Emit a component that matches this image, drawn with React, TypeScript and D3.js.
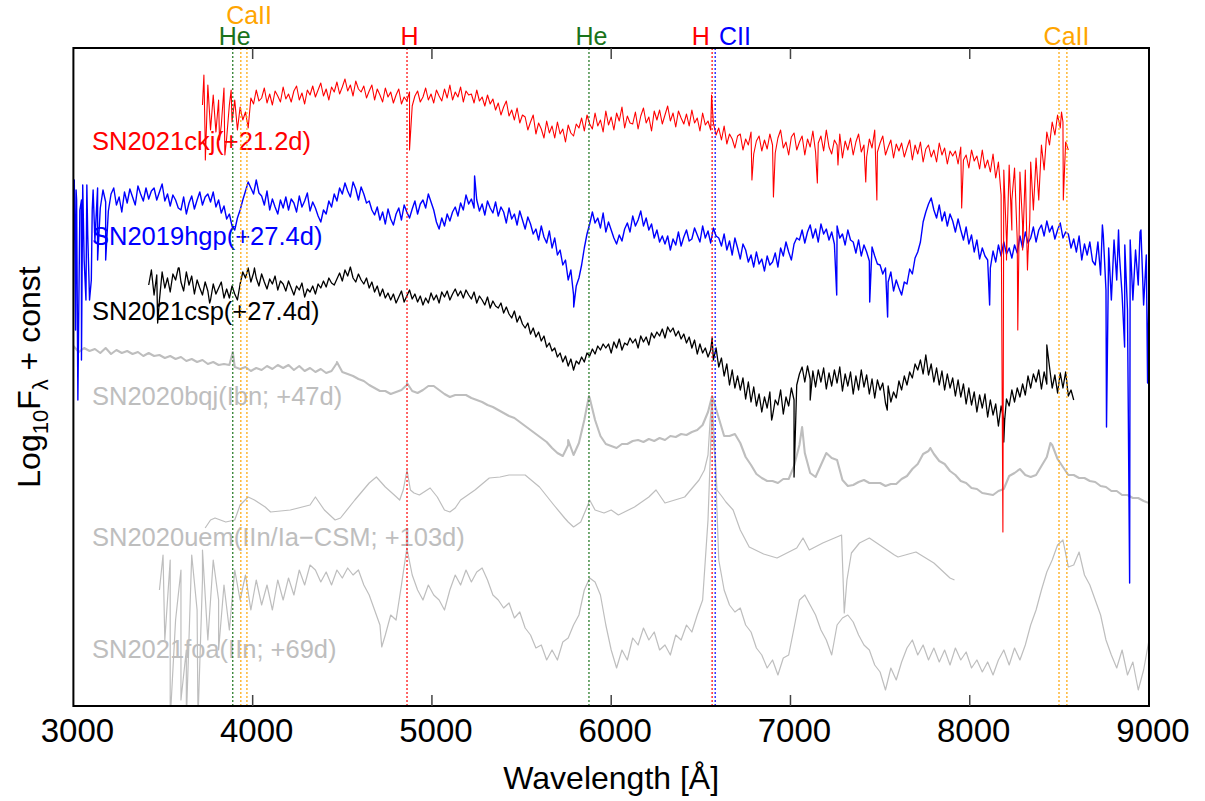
import React, { useEffect, useRef } from 'react';
import * as d3 from 'd3';

// wavelength grid steps (Angstrom) for the sampled spectra
const FINE = 15;
const COARSE = 30;

// SN2021ckj (+21.2d) - log flux + const (centidex), sampled every FINE from ckjStart
const ckjStart = 3720;
const ckjFlux = [
    895, 860, 915, 870, 905, 868, 900, 875, 912, 862,
    895, 878, 900, 870, 893, 880, 888, 872, 902, 896,
    910, 899, 902, 912, 897, 906, 895, 909, 904, 898,
    913, 901, 906, 898, 909, 914, 900, 907, 896, 910,
    905, 914, 903, 910, 917, 904, 911, 900, 913, 908,
    918, 906, 913, 921, 909, 915, 904, 919, 911, 908,
    914, 902, 909, 915, 900, 911, 905, 898, 912, 903,
    908, 897, 905, 911, 896, 903, 899, 908, 894, 904,
    909, 898, 903, 912, 900, 906, 897, 910, 904, 899,
    911, 902, 915, 900, 908, 903, 913, 898, 909, 905,
    906, 897, 910, 899, 903, 894, 905, 896, 901, 890,
    897, 885, 893, 899, 884, 890, 880, 892, 877, 885,
    883, 870, 878, 885, 866, 877, 871, 862, 879, 867,
    874, 862, 878, 866, 871, 858, 875, 867, 864, 876,
    872, 882, 869, 885, 876, 871, 887, 874, 880, 868,
    889, 875, 883, 870, 887, 879, 893, 872, 884, 877,
    876, 888, 871, 884, 892, 877, 883, 869, 889, 880,
    890, 876, 885, 894, 879, 887, 873, 889, 882, 876,
    886, 874, 890, 877, 882, 869, 887, 875, 879, 870,
    877, 865, 872, 860, 874, 856, 866, 861, 852, 864,
    866, 850, 861, 855, 868, 846, 859, 864, 849, 860,
    851, 866, 855, 847, 862, 870, 852, 858, 845, 863,
    867, 850, 858, 864, 845, 861, 853, 869, 848, 857,
    864, 849, 870, 853, 846, 860, 855, 866, 842, 859,
    850, 862, 845, 858, 866, 848, 855, 843, 861, 852,
    870, 848, 857, 864, 845, 853, 860, 842, 856, 849,
    857, 843, 852, 860, 840, 855, 846, 858, 838, 851,
    855, 843, 850, 838, 857, 845, 852, 836, 849, 844,
    849, 836, 853, 840, 845, 832, 850, 839, 844, 831,
    850, 832, 840, 828, 846, 822, 838, 805, 830, 760,
    835, 770, 832, 760, 828, 775, 830, 745, 838, 790,
    842, 800, 855, 830, 868, 855, 878, 865, 885, 872,
    878, 858, 850,
];
const ckjSpikes: [number, number][] = [
    [3728, 925], [3736, 840], [3755, 900], [3815, 860], [3845, 845], [3880, 910],
    [4875, 850], [6560, 905], [6785, 820], [6905, 803], [7150, 817], [7265, 835],
    [7420, 818], [7482, 800], [7955, 792], [8185, 468], [8205, 740], [8235, 800],
    [8268, 670], [8295, 750], [8322, 730], [8335, 780], [8512, 888], [8522, 800],
];

// SN2019hgp (+27.4d)
const hgpStart = 3000;
const hgpFlux = [
    760, 810, 690, 800, 740, 815, 700, 790, 760, 812,
    792, 810, 798, 789, 806, 812, 795, 803, 788, 808,
    797, 811, 803, 795, 814, 806, 799, 812, 801, 809,
    812, 800, 808, 816, 799, 806, 794, 805, 800, 792,
    790, 803, 786, 797, 804, 791, 800, 808, 795, 803,
    806, 798, 808, 793, 800, 787, 794, 781, 786, 774,
    770, 782, 790, 800, 809, 818, 812, 806, 820, 807,
    804, 795, 809, 790, 801, 793, 786, 800, 792, 803,
    790, 801, 797, 788, 804, 793, 799, 807, 789, 798,
    792, 784, 778, 790, 786, 799, 793, 806, 799, 812,
    806, 817, 809, 803, 818, 811, 800, 813, 806, 797,
    799, 790, 785, 793, 780, 788, 776, 791, 781, 775,
    786, 792, 780, 795, 788, 782, 791, 799, 786, 796,
    800, 792, 806, 798, 790, 778, 771, 782, 774, 786,
    779, 788, 793, 784, 797, 790, 805, 796, 801, 792,
    800, 789, 796, 785, 799, 792, 787, 798, 784, 793,
    788, 777, 792, 781, 786, 775, 789, 780, 771, 783,
    776, 766, 771, 760, 774, 763, 757, 769, 752, 762,
    745, 750, 735, 740, 720, 730, 705, 714, 722, 735,
    752, 766, 776, 788, 777, 782, 772, 787, 768, 778,
    770, 762, 756, 765, 759, 771, 777, 768, 784, 774,
    780, 789, 774, 782, 770, 776, 762, 770, 758, 764,
    756, 764, 750, 761, 755, 768, 754, 763, 770, 759,
    761, 772, 765, 758, 774, 762, 769, 757, 772, 764,
    762, 754, 766, 750, 759, 745, 762, 752, 741, 756,
    750, 738, 745, 733, 748, 736, 741, 729, 744, 735,
    738, 747, 733, 752, 744, 758, 748, 740, 756, 762,
    760, 770, 757, 768, 775, 762, 771, 758, 776, 766,
    771, 760, 768, 756, 774, 762, 766, 755, 770, 760,
    758, 747, 760, 744, 755, 748, 739, 753, 744, 736,
    735, 726, 732, 718, 728, 709, 720, 712, 705, 718,
    716, 731, 726, 742, 748, 758, 778, 788, 796, 802,
    790, 782, 795, 779, 788, 774, 786, 779, 768, 781,
    770, 760, 773, 756, 765, 748, 760, 741, 752, 744,
    740, 732, 749, 738, 755, 744, 758, 746, 752, 742,
    755, 747, 764, 752, 768, 757, 762, 773, 758, 770,
    775, 764, 779, 768, 774, 761, 770, 777, 762, 768,
    766, 752, 761, 748, 764, 740, 756, 745, 758, 739,
    735, 758, 725, 765, 710, 752, 700, 760, 720, 745,
    705, 755, 690, 760, 700, 750, 715, 770, 695, 745,
    720,
];
const hgpSpikes: [number, number][] = [
    [3005, 820], [3012, 670], [3018, 800], [3025, 600], [3036, 790], [3045, 640],
    [3052, 815], [3070, 700], [3080, 765], [3100, 720], [3110, 810], [3135, 740],
    [3180, 740], [5238, 824], [5791, 693], [7258, 705], [7442, 698], [7542, 683],
    [8111, 695], [8740, 775], [8763, 573], [8830, 770], [8864, 653], [8892, 417],
    [8950, 768], [8992, 617],
];

// SN2021csp (+27.4d)
const cspStart = 3420;
const cspFlux = [
    715, 730, 705, 725, 700, 728, 712, 722, 708, 726,
    720, 732, 718, 709, 728, 715, 724, 706, 720, 712,
    705, 718, 709, 700, 716, 706, 712, 718, 702, 711,
    702, 714, 706, 700, 716, 728, 722, 732, 718, 727,
    722, 714, 726, 718, 711, 721, 716, 724, 710, 719,
    716, 709, 719, 712, 705, 714, 710, 717, 703, 711,
    708, 714, 706, 716, 712, 719, 713, 722, 717, 715,
    721, 727, 719, 730, 724, 733, 722, 718, 726, 720,
    716, 722, 712, 718, 708, 714, 704, 711, 702, 707,
    700, 706, 697, 703, 709, 698, 704, 710, 701, 706,
    698, 704, 695, 702, 697, 707, 700, 705, 697, 708,
    703, 709, 700, 706, 711, 704, 709, 702, 710, 705,
    701, 708, 697, 704, 700, 695, 703, 692, 699, 694,
    692, 697, 687, 693, 686, 682, 689, 678, 684, 676,
    672, 677, 666, 672, 663, 668, 659, 664, 653, 657,
    649, 652, 643, 647, 638, 644, 634, 641, 630, 639,
    636, 643, 638, 647, 644, 651, 646, 654, 650, 656,
    652, 656, 647, 658, 652, 661, 650, 657, 655, 662,
    657, 661, 652, 664, 658, 663, 655, 667, 662, 668,
    664, 671, 662, 673, 668, 672, 664, 669, 661, 666,
    657, 663, 652, 660, 646, 656, 647, 652, 643, 650,
    640, 652, 633, 642, 624, 636, 615, 630, 612, 624,
    610, 622, 601, 618, 598, 613, 594, 606, 588, 603,
    592, 608, 584, 600, 595, 610, 586, 603, 594, 612,
    600, 615, 626, 633, 618, 634, 621, 629, 613, 630,
    618, 632, 611, 627, 614, 630, 617, 633, 609, 626,
    614, 628, 606, 624, 610, 630, 613, 625, 606, 621,
    602, 620, 610, 617, 597, 614, 598, 608, 602, 619,
    610, 624, 615, 628, 622, 636, 630, 640, 626, 645,
    625, 636, 618, 632, 615, 629, 610, 626, 612, 622,
    604, 620, 603, 616, 596, 612, 595, 608, 588, 605,
    592, 606, 583, 600, 585, 596, 574, 594, 580, 601,
    594, 610, 598, 612, 603, 616, 605, 624, 612, 626,
    618, 630, 611, 628, 616, 633, 612, 625, 607, 627,
    612, 628, 604, 610, 600,
];
const cspSpikes: [number, number][] = [
    [3470, 677], [3590, 732], [3760, 697], [4010, 732], [6563, 662], [6895, 580],
    [7020, 523], [7110, 600], [7540, 590], [8190, 558], [8195, 580], [8430, 655],
];

// SN2020bqj (Ibn; +47d), every COARSE
const bqjStart = 3000;
const bqjFlux = [
    654, 648, 652, 649, 651, 647, 652, 646, 650, 647,
    649, 646, 648, 644, 647, 644, 645, 642, 644, 641,
    643, 639, 641, 638, 640, 636, 638, 635, 636, 635,
    633, 631, 633, 629, 632, 630, 634, 631, 635, 632,
    635, 630, 634, 629, 632, 628, 631, 627, 629, 637,
    628, 626, 624, 621, 619, 615, 612, 609, 609, 606,
    608, 610, 615, 609, 607, 610, 614, 614, 610, 606,
    603, 605, 605, 605, 602, 600, 598, 595, 593, 590,
    587, 584, 582, 578, 574, 570, 566, 562, 558, 552,
    547, 544, 555, 545, 557, 580, 602, 580, 564, 556,
    554, 552, 556, 556, 559, 560, 558, 561, 559, 562,
    560, 564, 563, 566, 565, 568, 570, 575, 588, 600,
    582, 564, 564, 566, 557, 543, 535, 526, 522, 519,
    519, 517, 521, 521, 534, 555, 547, 527, 523, 535,
    547, 542, 540, 520, 514, 515, 518, 520, 517, 517,
    517, 514, 516, 516, 521, 524, 531, 536, 546, 549,
    546, 539, 536, 529, 525, 519, 517, 512, 511, 507,
    506, 505, 509, 511, 524, 527, 531, 525, 523, 525,
    534, 543, 555, 541, 533, 525, 525, 522, 522, 519,
    518, 514, 513, 509, 509, 505, 505, 502, 502, 499,
    497,
];
const bqjSpikes: [number, number][] = [
    [3889, 648], [4470, 638], [4861, 617], [5760, 560], [5876, 604], [6563, 604],
    [7065, 573], [7780, 552], [8450, 557],
];

// SN2020uem (IIn/Ia-CSM; +103d) - smooth, given as [wavelength, log flux + const]
const uemPoints: [number, number][] = [
    [3735, 472], [3765, 480], [3790, 482], [3850, 478], [3900, 480], [3930, 495],
    [3975, 503], [4010, 500], [4070, 493], [4100, 488], [4210, 490], [4320, 495],
    [4350, 503], [4400, 490], [4460, 480], [4490, 482], [4570, 500], [4650, 517],
    [4690, 523], [4740, 513], [4790, 505], [4820, 500], [4840, 510], [4861, 530],
    [4880, 510], [4900, 507], [4930, 505], [4990, 512], [5030, 503], [5070, 490],
    [5100, 488], [5130, 492], [5160, 500], [5240, 510], [5320, 522], [5380, 523],
    [5430, 525], [5520, 525], [5540, 522], [5600, 513], [5680, 495], [5740, 482],
    [5760, 478], [5790, 473], [5830, 478], [5870, 495], [5880, 500], [5910, 490],
    [5960, 487], [6000, 490], [6040, 485], [6130, 493], [6210, 503], [6250, 510],
    [6300, 497], [6410, 503], [6490, 520], [6520, 530], [6540, 545], [6552, 580],
    [6563, 602], [6575, 560], [6590, 510], [6620, 503], [6640, 498], [6680, 490],
    [6720, 470], [6770, 453], [6850, 446], [6925, 442], [7035, 452], [7070, 462],
    [7105, 450], [7180, 457], [7285, 465], [7300, 387], [7315, 420], [7340, 447],
    [7385, 457], [7440, 462], [7580, 445], [7600, 443], [7700, 448], [7800, 437],
    [7890, 422], [7915, 420],
];

// SN2021foa (IIn; +69d), every COARSE
const foaStart = 3480;
const foaFlux = [
    410, 360, 440, 380, 430, 350, 445, 390, 420, 360,
    440, 400, 415, 370, 430, 400, 425, 390, 420, 395,
    415, 390, 420, 400, 422, 405, 430, 415, 435, 430,
    418, 428, 415, 430, 422, 432, 425, 430, 415, 405,
    390, 375, 365, 385, 380, 415, 452, 425, 410, 400,
    415, 405, 400, 390, 410, 425, 415, 430, 418, 428,
    432, 420, 405, 400, 392, 397, 382, 388, 372, 365,
    352, 355, 340, 350, 340, 358, 362, 375, 385, 410,
    422, 418, 405, 375, 350, 332, 350, 340, 362, 355,
    372, 360, 368, 350, 355, 345, 365, 360, 375, 368,
    385, 400, 480, 560, 440, 410, 395, 388, 392, 375,
    368, 352, 345, 332, 340, 325, 342, 345, 372, 400,
    405, 395, 385, 370, 360, 345, 375, 382, 385, 378,
    365, 355, 350, 335, 328, 310, 332, 320, 338, 352,
    360, 345, 355, 340, 352, 338, 350, 335, 352, 340,
    348, 332, 340, 328, 338, 325, 340, 350, 335, 352,
    340, 355, 375, 390, 410, 428, 440, 455, 460, 433,
    435, 448, 425, 415, 400, 385, 360, 345, 332, 350,
    325, 338, 310, 330, 360,
];
const foaSpikes: [number, number][] = [
    [3500, 445], [3540, 280], [3600, 300], [3630, 280], [3695, 280], [3720, 450],
    [3810, 350], [4720, 353], [6550, 530], [6563, 595], [6580, 540],
];

// rest wavelengths of the marked lines
const lineWaves = [3889, 3934, 3968, 4861, 5876, 6563, 6580, 8498, 8542];
const lineColors = ['#1a731a', '#ffa500', '#ffa500', '#ff0000', '#1a731a', '#ff0000', '#0000ff', '#ffa500', '#ffa500'];

// labels above the frame: [text, wavelength of centre, colour, baseline]
const topLabels: [string, number, string, number][] = [
    ['He', 3900, '#1a731a', 45],
    ['CaII', 3980, '#ffa500', 24],
    ['H', 4875, '#ff0000', 45],
    ['He', 5890, '#1a731a', 45],
    ['H', 6500, '#ff0000', 45],
    ['CII', 6690, '#0000ff', 45],
    ['CaII', 8540, '#ffa500', 45],
];

const specNames = [
    'SN2021ckj(+21.2d)',
    'SN2019hgp(+27.4d)',
    'SN2021csp(+27.4d)',
    'SN2020bqj(Ibn; +47d)',
    'SN2020uem(IIn/Ia\u2212CSM; +103d)',
    'SN2021foa(IIn; +69d)',
];
const specColors = ['#ff0000', '#0000ff', '#000000', '#bebebe', '#bebebe', '#bebebe'];
const nameBaselines = [150, 245, 320, 405, 546, 658];

const xTicks = [3000, 4000, 5000, 6000, 7000, 8000, 9000];

const FONT = '"Liberation Sans", Arial, Helvetica, sans-serif';

const buildSpectrum = (start: number, step: number, flux: number[], spikes: [number, number][]) => {
    const pts: [number, number][] = flux.map((v, i) => [start + i * step, v]);
    return [...pts, ...spikes].sort((a, b) => a[0] - b[0]);
};

const drawChart = (container: HTMLDivElement) => {
    d3.select(container).selectAll('*').remove();

    const W = 1205;
    const H = 801;
    const margin = { left: 73.4, right: 56, top: 48, bottom: 95 };
    const x0 = margin.left;
    const x1 = W - margin.right;
    const y0 = margin.top;
    const y1 = H - margin.bottom;

    const svg = d3.select(container)
        .append('svg')
        .attr('width', W)
        .attr('height', H)
        .style('display', 'block')
        .style('background', '#fff')
        .style('font-family', FONT);

    const x = d3.scaleLinear().domain([3000, 9000]).range([x0, x1]);
    const y = d3.scaleLinear().domain([294, 952]).range([y1, y0]);

    svg.append('defs').append('clipPath')
        .attr('id', 'plot-clip')
        .append('rect')
        .attr('x', x0).attr('y', y0)
        .attr('width', x1 - x0).attr('height', y1 - y0);

    // --- spectrum names (drawn under the lines) ---
    specNames.forEach((name, i) => {
        svg.append('text')
            .attr('x', 92)
            .attr('y', nameBaselines[i])
            .style('font-size', '25.5px')
            .style('fill', specColors[i])
            .text(name);
    });

    // --- spectra ---
    const line = d3.line<[number, number]>()
        .x(d => x(d[0]))
        .y(d => y(d[1]));

    const spectra = [
        { data: buildSpectrum(foaStart, COARSE, foaFlux, foaSpikes), color: specColors[5], width: 1.2 },
        { data: uemPoints, color: specColors[4], width: 1.2 },
        { data: buildSpectrum(bqjStart, COARSE, bqjFlux, bqjSpikes), color: specColors[3], width: 2.1 },
        { data: buildSpectrum(cspStart, FINE, cspFlux, cspSpikes), color: specColors[2], width: 1.3 },
        { data: buildSpectrum(hgpStart, FINE, hgpFlux, hgpSpikes), color: specColors[1], width: 1.4 },
        { data: buildSpectrum(ckjStart, FINE, ckjFlux, ckjSpikes), color: specColors[0], width: 1.1 },
    ];

    const plot = svg.append('g').attr('clip-path', 'url(#plot-clip)');
    spectra.forEach(s => {
        plot.append('path')
            .attr('d', line(s.data) || '')
            .attr('fill', 'none')
            .attr('stroke', s.color)
            .attr('stroke-width', s.width)
            .attr('stroke-linejoin', 'round');
    });

    // --- dotted line markers ---
    lineWaves.forEach((w, i) => {
        svg.append('line')
            .attr('x1', x(w)).attr('x2', x(w))
            .attr('y1', y0).attr('y2', y1)
            .attr('stroke', lineColors[i])
            .attr('stroke-width', 1.2)
            .attr('stroke-dasharray', '2,2');
    });

    topLabels.forEach(([t, w, c, base]) => {
        svg.append('text')
            .attr('x', x(w))
            .attr('y', base)
            .attr('text-anchor', 'middle')
            .style('font-size', '25px')
            .style('fill', c)
            .text(t);
    });

    // --- frame and ticks ---
    svg.append('rect')
        .attr('x', x0).attr('y', y0)
        .attr('width', x1 - x0).attr('height', y1 - y0)
        .attr('fill', 'none')
        .attr('stroke', '#000')
        .attr('stroke-width', 2);

    xTicks.forEach(t => {
        if (t !== 3000 && t !== 9000) {
            svg.append('line')
                .attr('x1', x(t)).attr('x2', x(t))
                .attr('y1', y1).attr('y2', y1 - 11)
                .attr('stroke', '#444').attr('stroke-width', 1.5);
            svg.append('line')
                .attr('x1', x(t)).attr('x2', x(t))
                .attr('y1', y0).attr('y2', y0 + 11)
                .attr('stroke', '#444').attr('stroke-width', 1.5);
        }
        svg.append('text')
            .attr('x', x(t) + 4)
            .attr('y', 742)
            .attr('text-anchor', 'middle')
            .style('font-size', '33px')
            .style('fill', '#000')
            .text(String(t));
    });

    svg.append('text')
        .attr('x', (x0 + x1) / 2)
        .attr('y', 789)
        .attr('text-anchor', 'middle')
        .style('font-size', '32px')
        .text('Wavelength [\u00c5]');

    const yl = svg.append('text')
        .attr('transform', 'translate(40, 377) rotate(-90)')
        .attr('text-anchor', 'middle')
        .style('font-size', '32px');
    yl.append('tspan').text('Log');
    yl.append('tspan').attr('dy', 8).style('font-size', '22px').text('10');
    yl.append('tspan').attr('dy', -8).text('F');
    yl.append('tspan').attr('dy', 8).style('font-size', '22px').text('\u03bb');
    yl.append('tspan').attr('dy', -8).text(' + const');
};

const App: React.FC = () => {
    const ref = useRef<HTMLDivElement | null>(null);

    useEffect(() => {
        if (ref.current) drawChart(ref.current);
    }, []);

    return <div ref={ref} style={{ position: 'absolute', left: 0, top: 0, width: 1205, height: 801 }} />;
};

export default App;
